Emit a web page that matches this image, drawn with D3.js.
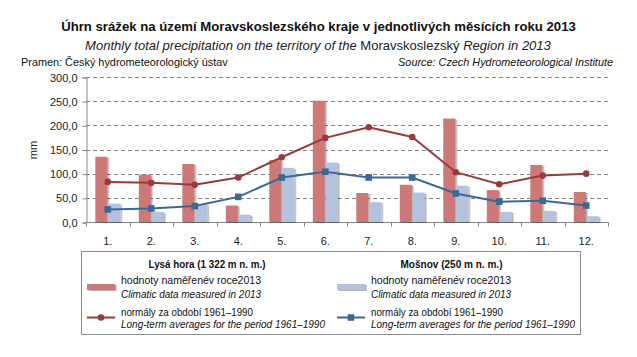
<!DOCTYPE html>
<html><head><meta charset="utf-8">
<script src="https://cdn.jsdelivr.net/npm/d3@7"></script>
<style>
body{margin:0;background:#fff;}
svg{display:block;font-family:"Liberation Sans",Arial,sans-serif;}
</style></head>
<body>
<svg id="c" width="637" height="357"></svg>
<script>
const months = ["1.","2.","3.","4.","5.","6.","7.","8.","9.","10.","11.","12."];
const lysaMeasured   = [135, 98, 120, 34, 128, 251, 60, 77, 214, 66, 118, 62];
const mosnovMeasured = [38, 21, 37, 15, 112, 123, 41, 61, 75, 21, 23, 12];
const lysaNormal     = [83, 81, 77, 92, 134, 174, 196, 176, 103, 78, 96, 100];
const mosnovNormal   = [26, 28, 33, 52, 92, 104, 92, 92, 59, 42, 44, 34];
const yTicks = [0, 50, 100, 150, 200, 250, 300];
const seriesKeys = ["lysa", "mosnov"];

(function(){
const svg = d3.select("#c");
const pL = 86, pR = 608, pT = 77, pB = 222;

const defs = svg.append("defs");
const f = defs.append("filter").attr("id","sh").attr("x","-20%").attr("y","-5%").attr("width","160%").attr("height","120%");
f.append("feDropShadow").attr("dx",1.6).attr("dy",1).attr("stdDeviation",0.7).attr("flood-color","#000").attr("flood-opacity",0.3);

function fit(sel, target){
  const w = sel.node().getComputedTextLength();
  const fs = parseFloat(sel.attr("font-size"));
  if (w > 0) sel.attr("font-size", (fs*target/w).toFixed(2));
}
function squeeze(sel, target){
  const w = sel.node().getComputedTextLength();
  if (w > target) sel.attr("textLength", target).attr("lengthAdjust","spacingAndGlyphs");
  return sel;
}

// Titles
const t1 = svg.append("text").attr("x",318.5).attr("y",31).attr("text-anchor","middle")
  .attr("font-size",13).attr("font-weight","bold").attr("fill","#111")
  .text("Úhrn srážek na území Moravskoslezského kraje v jednotlivých měsících roku 2013");
fit(t1, 515);
const t2 = svg.append("text").attr("x",318).attr("y",49.5).attr("text-anchor","middle")
  .attr("font-size",12.5).attr("fill","#222");
t2.append("tspan").attr("font-style","italic").text("Monthly total precipitation on the territory of the ");
t2.append("tspan").text("Moravskoslezský");
t2.append("tspan").attr("font-style","italic").text(" Region in 2013");
fit(t2, 466);
const t3 = svg.append("text").attr("x",21).attr("y",65.5).attr("font-size",11).attr("fill","#111")
  .text("Pramen: Český hydrometeorologický ústav");
fit(t3, 207);
const t4 = svg.append("text").attr("x",613).attr("y",65.5).attr("text-anchor","end").attr("font-size",11)
  .attr("font-style","italic").attr("fill","#111").text("Source: Czech Hydrometeorological Institute");
fit(t4, 215);

// Scales
const x = d3.scaleBand().domain(months).range([pL, pR]).padding(0);
const x1 = d3.scaleBand().domain(seriesKeys).range([9.3, 34.3]).paddingInner(0.06);
const y = d3.scaleLinear().domain([0, 300]).range([pB, pT]);

// Gridlines
svg.append("g").selectAll("line").data(yTicks.filter(d=>d>0)).join("line")
  .attr("x1",pL).attr("x2",pR).attr("y1",d=>Math.round(y(d))+0.5).attr("y2",d=>Math.round(y(d))+0.5)
  .attr("stroke","#858585").attr("stroke-width",1).attr("stroke-dasharray","4,3");

// Y axis
const yAxis = d3.axisLeft(y).tickValues(yTicks).tickSize(4).tickPadding(5)
  .tickFormat(d => d3.format(".1f")(d).replace(".", ","));
const gy = svg.append("g").attr("transform",`translate(${pL+0.5},0.5)`).call(yAxis);
gy.select(".domain").attr("stroke","#868686");
gy.selectAll(".tick line").attr("stroke","#868686");
gy.selectAll(".tick text").attr("font-size",11).attr("fill","#222").attr("font-family","Liberation Sans, Arial");

svg.append("text").attr("transform","translate(37,150) rotate(-90)").attr("text-anchor","middle")
  .attr("font-size",11).attr("fill","#222").text("mm");

// X axis
const gx = svg.append("g").attr("transform",`translate(0,${pB+0.5})`);
gx.append("line").attr("x1",pL).attr("x2",pR+0.5).attr("stroke","#868686");
const bounds = months.map(m => x(m)).concat([pR]);
gx.selectAll("line.tk").data(bounds).join("line").attr("class","tk")
  .attr("x1",d=>Math.round(d)+0.5).attr("x2",d=>Math.round(d)+0.5).attr("y1",0).attr("y2",4).attr("stroke","#868686");
gx.selectAll("text").data(months).join("text")
  .attr("x",d=>x(d)+x.bandwidth()/2).attr("y",22.5).attr("text-anchor","middle")
  .attr("font-size",11).attr("fill","#222").text(d=>d);

// Bars
const bars = svg.append("g");
bars.selectAll("rect.l").data(lysaMeasured).join("rect").attr("class","l")
  .attr("x",(d,i)=>x(months[i])+x1("lysa")).attr("width",x1.bandwidth())
  .attr("y",d=>y(d)).attr("height",d=>y(0)-y(d))
  .attr("fill","#cc7977").attr("filter","url(#sh)");
bars.selectAll("rect.m").data(mosnovMeasured).join("rect").attr("class","m")
  .attr("x",(d,i)=>x(months[i])+x1("mosnov")).attr("width",x1.bandwidth())
  .attr("y",d=>y(d)).attr("height",d=>y(0)-y(d))
  .attr("fill","#b3c3de").attr("filter","url(#sh)");

// Lines
const cx = (d,i) => x(months[i]) + x.bandwidth()/2;
const line = d3.line().x(cx).y(d=>y(d));
const redC = "#9a3b39", blueC = "#3c6898";
svg.append("path").datum(lysaNormal).attr("d",line).attr("fill","none").attr("stroke",redC).attr("stroke-width",2);
svg.selectAll("circle.l").data(lysaNormal).join("circle").attr("class","l")
  .attr("cx",cx).attr("cy",d=>y(d)).attr("r",3.3).attr("fill",redC);
svg.append("path").datum(mosnovNormal).attr("d",line).attr("fill","none").attr("stroke",blueC).attr("stroke-width",2);
svg.selectAll("rect.sq").data(mosnovNormal).join("rect").attr("class","sq")
  .attr("x",(d,i)=>cx(d,i)-3.3).attr("y",d=>y(d)-3.3).attr("width",6.6).attr("height",6.6).attr("fill",blueC);

// Legend
const lg = svg.append("g");
lg.append("rect").attr("x",81.5).attr("y",251.5).attr("width",499).attr("height",83)
  .attr("fill","#fff").attr("stroke","#8a8a8a").attr("stroke-width",1);
const legendCols = [
  {title:"Lysá hora (1 322 m n. m.)", tw:117, tx:207, sx:87, fill:"#cc7977", lc:redC, marker:"circle"},
  {title:"Mošnov (250 m n. m.)", tw:102, tx:451.5, sx:337, fill:"#b3c3de", lc:blueC, marker:"square"}
];
legendCols.forEach(c => {
  const tt = lg.append("text").attr("x",c.tx).attr("y",268).attr("text-anchor","middle")
    .attr("font-size",11).attr("font-weight","bold").attr("fill","#111").text(c.title);
  squeeze(tt, c.tw);
  lg.append("rect").attr("x",c.sx).attr("y",284).attr("width",28).attr("height",6)
    .attr("fill",c.fill).attr("filter","url(#sh)");
  const tx = c.sx + 34;
  squeeze(lg.append("text").attr("x",tx).attr("y",284).attr("font-size",11).attr("fill","#111").text("hodnoty naměřenév roce2013"), 140);
  squeeze(lg.append("text").attr("x",tx).attr("y",298).attr("font-size",11).attr("font-style","italic").attr("fill","#111").text("Climatic data measured in 2013"), 140);
  lg.append("line").attr("x1",c.sx).attr("x2",c.sx+28).attr("y1",317.5).attr("y2",317.5).attr("stroke",c.lc).attr("stroke-width",2);
  if (c.marker === "circle") lg.append("circle").attr("cx",c.sx+14).attr("cy",317.5).attr("r",3.3).attr("fill",c.lc);
  else lg.append("rect").attr("x",c.sx+14-3.3).attr("y",317.5-3.3).attr("width",6.6).attr("height",6.6).attr("fill",c.lc);
  squeeze(lg.append("text").attr("x",tx).attr("y",315.5).attr("font-size",11).attr("fill","#111").text("normály za období 1961–1990"), 132);
  squeeze(lg.append("text").attr("x",tx).attr("y",328).attr("font-size",11).attr("font-style","italic").attr("fill","#111").text("Long-term averages for the period 1961–1990"), 204);
});
})();
</script>
</body></html>
